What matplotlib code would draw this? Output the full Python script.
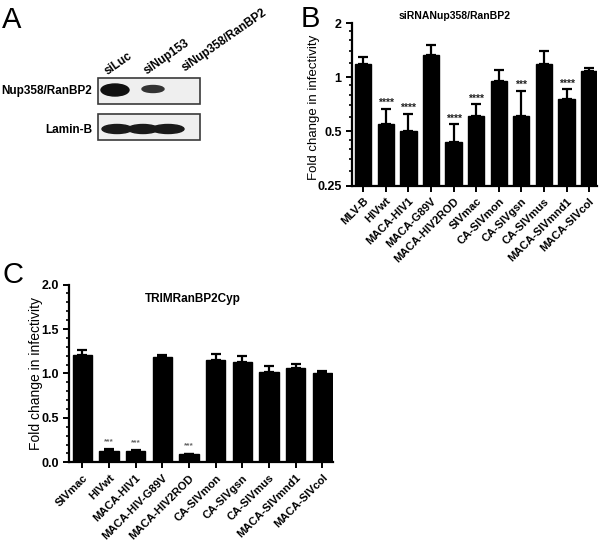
import numpy as np
import matplotlib
matplotlib.use("Agg")
import matplotlib.pyplot as plt
from matplotlib.patches import Rectangle, Ellipse

plt.rcParams['font.family'] = ['Liberation Sans', 'DejaVu Sans']

# panel B: siRNA Nup358/RanBP2 knockdown (log2 axis)
viruses_b = ["MLV-B", "HIVwt", "MACA-HIV1", "MACA-G89V", "MACA-HIV2ROD", "SIVmac",
             "CA-SIVmon", "CA-SIVgsn", "CA-SIVmus", "MACA-SIVmnd1", "MACA-SIVcol"]
fold_b = [1.19, 0.552, 0.50, 1.33, 0.434, 0.609, 0.954, 0.609, 1.19, 0.76, 1.08]
upper_b = [1.29, 0.669, 0.627, 1.51, 0.547, 0.707, 1.099, 0.843, 1.40, 0.854, 1.127]
sig_b = ["", "****", "****", "", "****", "****", "", "***", "", "****", ""]

# panel C: TRIMRanBP2Cyp restriction (linear axis)
viruses_c = ["SIVmac", "HIVwt", "MACA-HIV1", "MACA-HIV-G89V", "MACA-HIV2ROD",
             "CA-SIVmon", "CA-SIVgsn", "CA-SIVmus", "MACA-SIVmnd1", "MACA-SIVcol"]
fold_c = [1.21, 0.127, 0.124, 1.18, 0.09, 1.15, 1.13, 1.02, 1.06, 1.00]
upper_c = [1.266, 0.146, 0.135, 1.21, 0.097, 1.22, 1.20, 1.085, 1.107, 1.03]
sig_c = ["", "***", "***", "", "***", "", "", "", "", ""]

fig = plt.figure(figsize=(6, 5.46), dpi=100)

# overlay in pixel coords for panel letters and the western blot
ov = fig.add_axes([0, 0, 1, 1], zorder=-1)
ov.set_xlim(0, 600)
ov.set_ylim(546, 0)
ov.axis('off')

for letter, (lx, ly) in zip("ABC", [(2, 28), (301, 27), (2, 283)]):
    ov.text(lx, ly, letter, fontsize=21, ha='left', va='baseline')

# panel A blot
lanes = ["siLuc", "siNup153", "siNup358/RanBP2"]
lane_pos = [(108, 75), (147, 75), (185, 72)]
for name, (tx, ty) in zip(lanes, lane_pos):
    ov.text(tx, ty, name, fontsize=8.5, fontweight='bold', rotation=35,
            rotation_mode='anchor', ha='left', va='baseline')

for y0 in [78, 114]:
    ov.add_patch(Rectangle((98, y0), 102, 26, facecolor='#efefef',
                           edgecolor='#3a3a3a', lw=1.2))
ov.text(92, 91, "Nup358/RanBP2", fontsize=8.5, fontweight='bold', ha='right', va='center')
ov.text(92, 130, "Lamin-B", fontsize=8.5, fontweight='bold', ha='right', va='center')

# bands
ov.add_patch(Ellipse((115, 90), 28, 12, color='#111111'))
ov.add_patch(Ellipse((153, 89), 22, 7, color='#333333'))
for bx, bw in [(117, 30), (143, 30), (168, 32)]:
    ov.add_patch(Ellipse((bx, 129), bw, 9, color='#1a1a1a'))


def style_axes(ax):
    for s in ['top', 'right']:
        ax.spines[s].set_visible(False)
    for s in ['left', 'bottom']:
        ax.spines[s].set_linewidth(1.6)
    ax.tick_params(axis='both', which='major', direction='out', width=1.4, length=4)
    ax.tick_params(axis='y', which='minor', direction='out', width=1.2, length=2.5)
    ax.tick_params(axis='x', which='minor', length=0)
    for lab in ax.get_yticklabels():
        lab.set_fontweight('bold')
        lab.set_fontsize(9)


def draw_bars(ax, names, vals, upper, sig, star_size, star_col, star_off):
    x = np.arange(len(names))
    vals = np.array(vals)
    err = np.array(upper) - vals
    ax.bar(x, vals, width=0.72, color='black', edgecolor='black', zorder=2)
    ax.errorbar(x, vals, yerr=[np.zeros_like(err), err], fmt='none', ecolor='black',
                elinewidth=1.6, capsize=3.6, capthick=1.6, zorder=1)
    for xi, up, s in zip(x, upper, sig):
        if s:
            ax.annotate(s, (xi, up), xytext=(0, star_off), textcoords='offset points',
                        ha='center', va='bottom', fontsize=star_size, color=star_col,
                        fontweight='bold')
    ax.set_xticks(x)
    ax.set_xticklabels(names, rotation=45, ha='right', rotation_mode='anchor',
                       fontsize=8, fontweight='bold')


# panel B
axb = fig.add_axes([352 / 600, 1 - 185.5 / 546, 245 / 600, 162.5 / 546])
axb.set_yscale('log', base=2)
draw_bars(axb, viruses_b, fold_b, upper_b, sig_b, 7.5, '#222222', 0.5)
axb.set_ylim(0.25, 2)
axb.set_xlim(-0.5, 10.35)
axb.set_yticks([0.25, 0.5, 1, 2])
axb.set_yticklabels(["0.25", "0.5", "1", "2"])
axb.set_yticks([0.3, 0.35, 0.4, 0.45, 0.6, 0.7, 0.8, 0.9, 1.2, 1.4, 1.6, 1.8], minor=True)
axb.yaxis.set_minor_formatter(plt.NullFormatter())
style_axes(axb)
axb.set_ylabel("Fold change in infectivity", fontsize=9.5)
axb.yaxis.set_label_coords(-0.13, 0.48)
axb.set_title("siRNANup358/RanBP2", fontsize=7.5, fontweight='bold', pad=3,
              x=0.42)

# panel C
axc = fig.add_axes([69 / 600, 1 - 462.3 / 546, 264 / 600, 177.7 / 546])
draw_bars(axc, viruses_c, fold_c, upper_c, sig_c, 6, '#666666', 3)
axc.set_ylim(0, 2)
axc.set_xlim(-0.5, 9.4)
axc.set_yticks([0, 0.5, 1.0, 1.5, 2.0])
axc.set_yticklabels(["0.0", "0.5", "1.0", "1.5", "2.0"])
axc.set_yticks(np.arange(0, 2.01, 0.1), minor=True)
style_axes(axc)
axc.set_ylabel("Fold change in infectivity", fontsize=10)
axc.yaxis.set_label_coords(-0.1, 0.5)
axc.text(0.47, 0.92, "TRIMRanBP2Cyp", transform=axc.transAxes, fontsize=8.5,
         fontweight='bold', ha='center', va='center')

fig.savefig("out.png", dpi=100)
